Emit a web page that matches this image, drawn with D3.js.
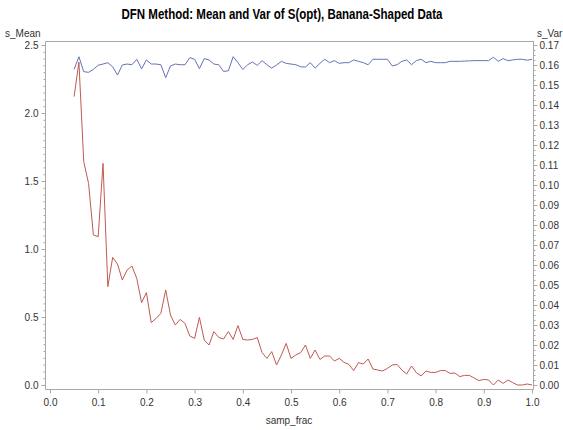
<!DOCTYPE html>
<html><head><meta charset="utf-8">
<script src="https://cdn.jsdelivr.net/npm/d3@7"></script>
<style>body{margin:0;background:#fff;} svg{display:block;font-family:"Liberation Sans",Arial,sans-serif;}</style>
</head><body>
<svg id="chart" width="563" height="430"></svg>
<script>
// ---- data ----
const sampFrac = d3.range(5, 101).map(i => i / 100);
const sMean = [
 2.321,2.414,2.304,2.299,2.321,2.351,2.360,2.370,2.340,2.279,
 2.353,2.360,2.355,2.395,2.324,2.390,2.360,2.360,2.355,2.260,
 2.346,2.360,2.355,2.355,2.407,2.395,2.326,2.400,2.390,2.360,
 2.355,2.306,2.310,2.414,2.370,2.320,2.355,2.375,2.350,2.385,
 2.355,2.330,2.353,2.380,2.365,2.360,2.355,2.340,2.338,2.370,
 2.330,2.365,2.395,2.370,2.385,2.365,2.370,2.370,2.390,2.380,
 2.370,2.355,2.395,2.395,2.395,2.395,2.346,2.355,2.380,2.390,
 2.355,2.385,2.395,2.370,2.380,2.370,2.370,2.370,2.380,2.380,
 2.380,2.382,2.383,2.385,2.385,2.385,2.385,2.410,2.380,2.400,
 2.385,2.390,2.395,2.395,2.388,2.395
];
const sVar = [
 0.1442,0.1615,0.1117,0.1008,0.0750,0.0742,0.1108,0.0492,0.0638,0.0605,
 0.0525,0.0575,0.0595,0.0533,0.0412,0.0462,0.0312,0.0333,0.0358,0.0475,
 0.0350,0.0300,0.0328,0.0308,0.0245,0.0233,0.0338,0.0225,0.0200,0.0267,
 0.0238,0.0230,0.0267,0.0228,0.0297,0.0228,0.0225,0.0228,0.0237,0.0162,
 0.0133,0.0167,0.0100,0.0150,0.0208,0.0133,0.0150,0.0162,0.0200,0.0133,
 0.0175,0.0128,0.0145,0.0145,0.0120,0.0133,0.0113,0.0103,0.0072,0.0112,
 0.0105,0.0130,0.0080,0.0075,0.0070,0.0083,0.0100,0.0103,0.0075,0.0055,
 0.0095,0.0062,0.0045,0.0070,0.0063,0.0063,0.0072,0.0072,0.0058,0.0060,
 0.0042,0.0048,0.0048,0.0035,0.0022,0.0028,0.0025,0.0000,0.0025,0.0008,
 0.0025,0.0012,0.0000,0.0000,0.0005,0.0000
];
const xTicks = [0,0.1,0.2,0.3,0.4,0.5,0.6,0.7,0.8,0.9,1.0];
const yLeftTicks = [0,0.5,1.0,1.5,2.0,2.5];
const yRightTicks = d3.range(0,18).map(i => i/100);
const titleText = "DFN Method: Mean and Var of S(opt), Banana-Shaped Data";

// ---- layout ----
const svg = d3.select("#chart");
const frame = {l:45.5, r:533.5, t:41.5, b:389.5};
const x = d3.scaleLinear().domain([0,1]).range([50,532]);
const yL = d3.scaleLinear().domain([0,2.5]).range([385,45]);
const yR = d3.scaleLinear().domain([0,0.17]).range([385,45]);
const axisCol = "#a8a8a8", textCol = "#333";

svg.append("text").attr("x",282).attr("y",19).attr("text-anchor","middle")
  .attr("font-size",14).attr("font-weight","bold").attr("fill","#000")
  .attr("textLength",321).attr("lengthAdjust","spacingAndGlyphs").text(titleText);

// frame top line
svg.append("line").attr("x1",frame.l).attr("x2",frame.r).attr("y1",frame.t).attr("y2",frame.t)
  .attr("stroke",axisCol);

function styleAxis(g){
  g.select(".domain").attr("stroke",axisCol);
  g.selectAll(".tick line").attr("stroke",axisCol);
  g.selectAll(".tick text").attr("fill",textCol).attr("font-size",10).attr("font-family","Liberation Sans, Arial, sans-serif");
}

// bottom axis
const gx = svg.append("g").attr("transform",`translate(0,${frame.b})`)
  .call(d3.axisBottom(x).tickValues(xTicks).tickFormat(d3.format(".1f")).tickSizeInner(4).tickSizeOuter(0).tickPadding(5));
gx.select(".domain").attr("d",`M${frame.l},0H${frame.r}`);
styleAxis(gx);

// left axis minor ticks
const yLMinor = d3.range(0,51).map(i=>i*0.05).filter(v=>Math.abs(v*2-Math.round(v*2))>1e-6);
const gLm = svg.append("g").attr("transform",`translate(${frame.l},0)`)
  .call(d3.axisLeft(yL).tickValues(yLMinor).tickSizeInner(2).tickSizeOuter(0).tickFormat(""));
gLm.select(".domain").remove();
gLm.selectAll(".tick line").attr("stroke",axisCol);
const gL = svg.append("g").attr("transform",`translate(${frame.l},0)`)
  .call(d3.axisLeft(yL).tickValues(yLeftTicks).tickFormat(d3.format(".1f")).tickSizeInner(4).tickSizeOuter(0).tickPadding(3));
gL.select(".domain").attr("d",`M0,${frame.t}V${frame.b}`);
styleAxis(gL);

// right axis
const yRMinor = d3.range(0,69).map(i=>i*0.0025).filter(v=>Math.abs(v*100-Math.round(v*100))>1e-6);
const gRm = svg.append("g").attr("transform",`translate(${frame.r},0)`)
  .call(d3.axisRight(yR).tickValues(yRMinor).tickSizeInner(2).tickSizeOuter(0).tickFormat(""));
gRm.select(".domain").remove();
gRm.selectAll(".tick line").attr("stroke",axisCol);
const gR = svg.append("g").attr("transform",`translate(${frame.r},0)`)
  .call(d3.axisRight(yR).tickValues(yRightTicks).tickFormat(d3.format(".2f")).tickSizeInner(4).tickSizeOuter(0).tickPadding(2));
gR.select(".domain").attr("d",`M0,${frame.t}V${frame.b}`);
styleAxis(gR);

// axis labels
svg.append("text").attr("x",5).attr("y",37).attr("font-size",10).attr("fill",textCol).text("s_Mean");
svg.append("text").attr("x",537).attr("y",37).attr("font-size",10).attr("fill",textCol).text("s_Var");
svg.append("text").attr("x",289).attr("y",424).attr("text-anchor","middle").attr("font-size",10).attr("fill",textCol).text("samp_frac");

// lines
const lineMean = d3.line().x((d,i)=>x(sampFrac[i])).y(d=>yL(d));
const lineVar = d3.line().x((d,i)=>x(sampFrac[i])).y(d=>yR(d));
svg.append("path").datum(sMean).attr("d",lineMean).attr("fill","none").attr("stroke","#6573b4").attr("stroke-width",1);
svg.append("path").datum(sVar).attr("d",lineVar).attr("fill","none").attr("stroke","#c05a50").attr("stroke-width",1);
</script>
</body></html>
